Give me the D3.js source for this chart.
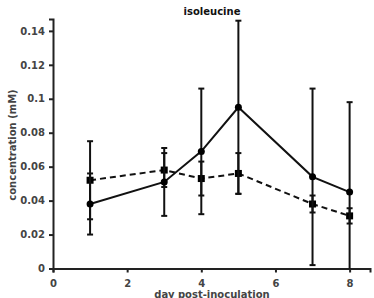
<!DOCTYPE html>
<html>
<head>
<meta charset="utf-8">
<script src="https://cdn.jsdelivr.net/npm/d3@7"></script>
<style>
  body { margin: 0; background: #fff; }
  .axis text { font-family: "DejaVu Sans", sans-serif; font-size: 10px; font-weight: bold; fill: #444; }
  .axis path, .axis line { stroke: #222; stroke-width: 2; }
</style>
</head>
<body>
<script>
// data
var days = [1, 3, 4, 5, 7, 8];
var solidMean = [0.038, 0.051, 0.069, 0.095, 0.054, 0.045];
var solidErr  = [0.018, 0.020, 0.037, 0.051, 0.052, 0.053];
var dashMean  = [0.052, 0.058, 0.053, 0.056, 0.038, 0.031];
var dashErr   = [0.023, 0.010, 0.010, 0.012, 0.005, 0.0045];
var xTicks = [0, 2, 4, 6, 8];
var yTicks = [0, 0.02, 0.04, 0.06, 0.08, 0.1, 0.12, 0.14];

var width = 374, height = 298;
var svg = d3.select("body").append("svg")
  .attr("width", width).attr("height", height);

var x = d3.scaleLinear().domain([0, 8.55]).range([53, 370]);
var y = d3.scaleLinear().domain([0, 0.147]).range([268.5, 19]);

svg.append("g")
  .attr("class", "axis")
  .attr("transform", "translate(0," + y(0) + ")")
  .call(d3.axisBottom(x).tickValues(xTicks).tickFormat(d3.format("d")).tickSizeOuter(0).tickSize(4))
  .call(function (g) { g.selectAll("text").attr("dy", "1.1em"); });

svg.append("g")
  .attr("class", "axis")
  .attr("transform", "translate(" + x(0) + ",0)")
  .call(d3.axisLeft(y).tickValues(yTicks).tickFormat(function (d) { return d === 0 ? "0" : String(+d.toFixed(2)); }).tickSizeOuter(0).tickSize(4))
  .call(function (g) { g.selectAll("text").attr("dx", "-0.1em"); });

function series(mean, err, dashed, marker) {
  var pts = days.map(function (d, i) { return { d: d, m: mean[i], e: err[i] }; });
  var g = svg.append("g");
  g.selectAll("line.eb").data(pts).enter().append("line")
    .attr("x1", function (p) { return x(p.d); })
    .attr("x2", function (p) { return x(p.d); })
    .attr("y1", function (p) { return y(Math.max(0, p.m - p.e)); })
    .attr("y2", function (p) { return y(p.m + p.e); })
    .attr("stroke", "#111").attr("stroke-width", 2);
  var caps = [];
  pts.forEach(function (p) {
    caps.push({ d: p.d, v: p.m + p.e });
    if (p.m - p.e > 0) caps.push({ d: p.d, v: p.m - p.e });
  });
  g.selectAll("line.cap").data(caps).enter().append("line")
    .attr("x1", function (c) { return x(c.d) - 3; })
    .attr("x2", function (c) { return x(c.d) + 3; })
    .attr("y1", function (c) { return y(c.v); })
    .attr("y2", function (c) { return y(c.v); })
    .attr("stroke", "#111").attr("stroke-width", 2);
  var line = d3.line().x(function (p) { return x(p.d); }).y(function (p) { return y(p.m); });
  g.append("path").datum(pts)
    .attr("d", line).attr("fill", "none")
    .attr("stroke", "#111").attr("stroke-width", 2)
    .attr("stroke-dasharray", dashed ? "6,4" : null);
  if (marker === "circle") {
    g.selectAll("circle").data(pts).enter().append("circle")
      .attr("cx", function (p) { return x(p.d); })
      .attr("cy", function (p) { return y(p.m); })
      .attr("r", 3.5).attr("fill", "#000");
  } else {
    g.selectAll("rect").data(pts).enter().append("rect")
      .attr("x", function (p) { return x(p.d) - 3.5; })
      .attr("y", function (p) { return y(p.m) - 3.5; })
      .attr("width", 7).attr("height", 7).attr("fill", "#000");
  }
}

series(dashMean, dashErr, true, "square");
series(solidMean, solidErr, false, "circle");

svg.append("text")
  .attr("x", 212).attr("y", 15)
  .attr("text-anchor", "middle")
  .attr("font-family", "DejaVu Sans, sans-serif")
  .attr("font-size", "10px").attr("font-weight", "bold")
  .attr("fill", "#111")
  .text("isoleucine");

svg.append("text")
  .attr("transform", "translate(16,145) rotate(-90)")
  .attr("text-anchor", "middle")
  .attr("font-family", "DejaVu Sans, sans-serif")
  .attr("font-size", "10px").attr("font-weight", "bold")
  .attr("fill", "#444")
  .text("concentration (mM)");

svg.append("text")
  .attr("x", 212).attr("y", 298)
  .attr("text-anchor", "middle")
  .attr("font-family", "DejaVu Sans, sans-serif")
  .attr("font-size", "10px").attr("font-weight", "bold")
  .attr("fill", "#444")
  .text("day post-inoculation");
</script>
</body>
</html>
